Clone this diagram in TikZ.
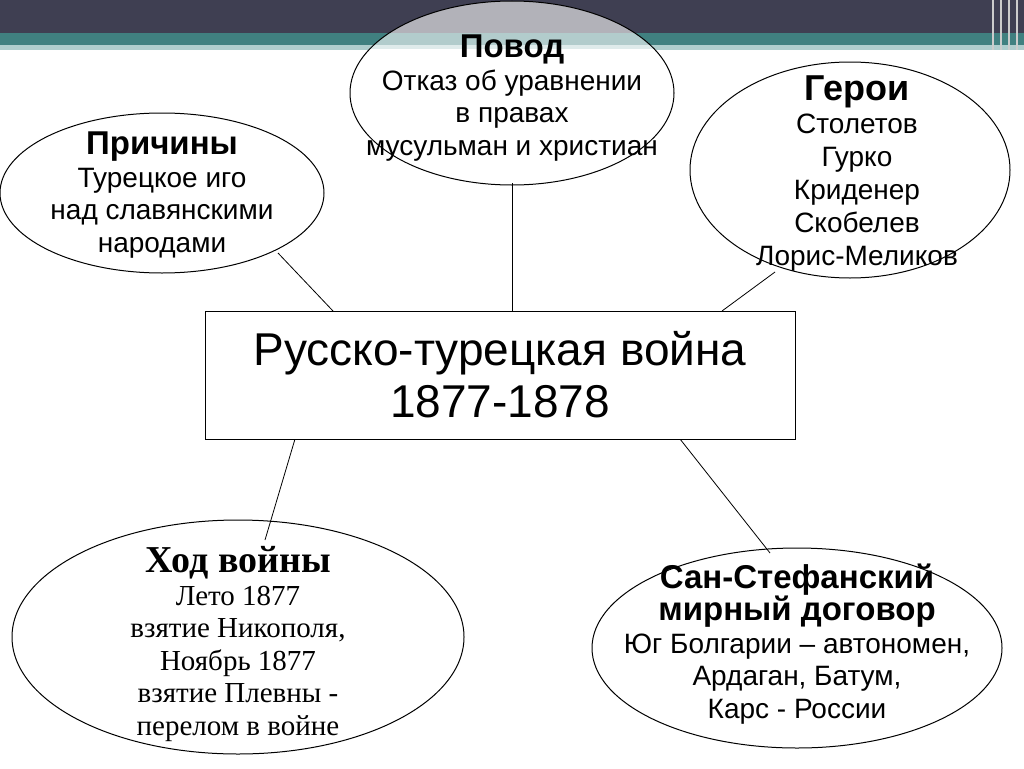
\documentclass[tikz,border=0pt]{standalone}
\usepackage{fontspec}
\setmainfont{Liberation Sans}
\newfontfamily\serifcyr{Liberation Serif}
\begin{document}
\begin{tikzpicture}[x=1pt,y=-1pt,
  conn/.style={draw=black,line width=0.8pt},
  txt/.style={align=center,font=\fontsize{28}{32.5}\selectfont}]
\useasboundingbox (0,0) rectangle (1024,768);
\fill[white] (0,0) rectangle (1024,768);
\fill[fill={rgb,255:red,63;green,63;blue,82}] (0,0) rectangle (1024,33);
\fill[fill={rgb,255:red,64;green,128;blue,128}] (0,33) rectangle (1024,45);
\fill[fill={rgb,255:red,175;green,205;blue,205}] (0,45) rectangle (1024,50);
\foreach \xx in {992,1000,1008,1016}{\fill[gray!40] (\xx,0) rectangle ++(2,50);}
% connectors
\coordinate (c1) at (278,253); \coordinate (b1) at (333,311);
\coordinate (c2) at (512,183); \coordinate (b2) at (512,311);
\coordinate (c3) at (775,272); \coordinate (b3) at (722,311);
\coordinate (c4) at (265,540); \coordinate (b4) at (295,439);
\coordinate (c5) at (770,553); \coordinate (b5) at (680,439);
% ellipses
\draw[line width=1pt,fill=white] (162,193) ellipse [x radius=162,y radius=80];
\begin{scope}
\clip (0,0) rectangle (1024,50);
\fill[white,opacity=0.6] (512,93) ellipse [x radius=162,y radius=92];
\end{scope}
\begin{scope}
\clip (0,50) rectangle (1024,768);
\fill[white] (512,93) ellipse [x radius=162,y radius=92];
\end{scope}
\draw[line width=1pt] (512,93) ellipse [x radius=162,y radius=92];
\draw[line width=1pt,fill=white] (850,170) ellipse [x radius=160,y radius=108];
\draw[line width=1pt,fill=white] (238,637) ellipse [x radius=226,y radius=117];
\draw[line width=1pt,fill=white] (797,648) ellipse [x radius=205,y radius=100];
\foreach \i in {1,...,5}{\draw[conn] (c\i) -- (b\i);}
\node[draw,line width=1pt,minimum width=590,minimum height=128,fill=white,align=center,font=\fontsize{46}{52}\selectfont] (war) at (500,375) {Русско-турецкая война\\1877-1878};
\node[txt] (pr) at (162,195) {\textbf{\fontsize{33}{32.5}\selectfont Причины}\\Турецкое иго\\над славянскими\\народами};
\node[txt] (pv) at (512,98) {\textbf{\fontsize{33}{32.5}\selectfont Повод}\\Отказ об уравнении\\в правах\\мусульман и христиан};
\node[txt,font=\fontsize{28}{33}\selectfont] (ge) at (857,174) {\textbf{\fontsize{36}{33}\selectfont Герои}\\Столетов\\Гурко\\Криденер\\Скобелев\\Лорис-Меликов};
\node[txt,font=\serifcyr\fontsize{29}{32.5}\selectfont] (hod) at (238,644) {\textbf{\fontsize{38}{33}\selectfont Ход войны}\\Лето 1877\\взятие Никополя,\\Ноябрь 1877\\взятие Плевны -\\перелом в войне};
\node[txt] (ss) at (797,644) {\textbf{\fontsize{33}{36}\selectfont Сан-Стефанский}\\\textbf{\fontsize{33}{36}\selectfont мирный договор}\\Юг Болгарии -- автономен,\\Ардаган, Батум,\\Карс - России};
\end{tikzpicture}
\end{document}
